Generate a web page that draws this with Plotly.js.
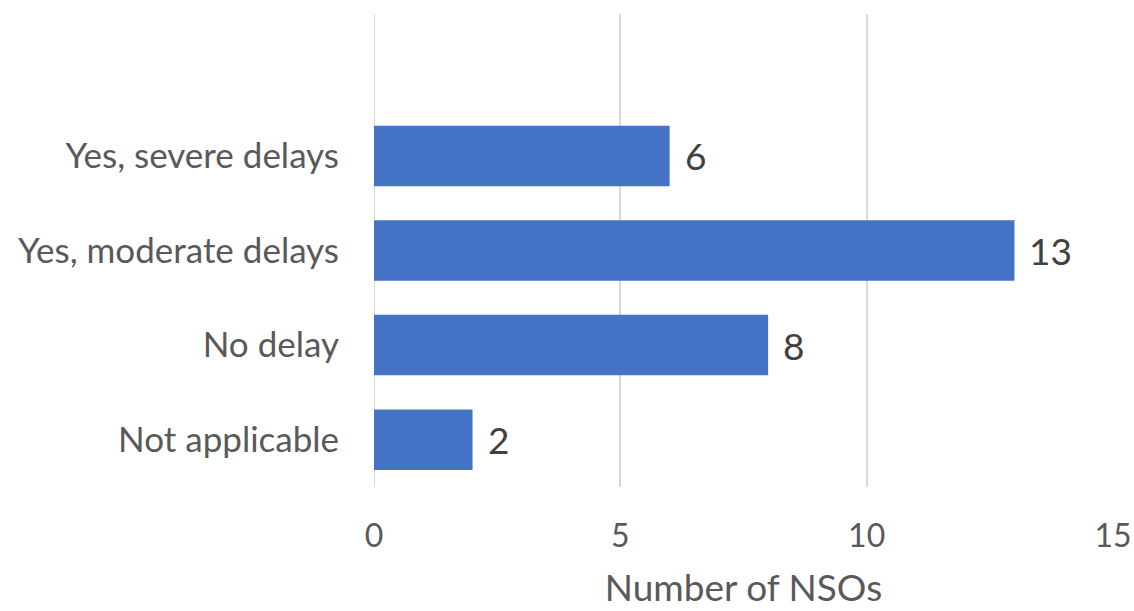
<!DOCTYPE html>
<html>
<head>
<meta charset="utf-8">
<script src="https://cdn.plot.ly/plotly-3.0.1.min.js"></script>
<style>html,body{margin:0;padding:0;background:#fff;}#chart{width:1134px;height:611px;}</style>
</head>
<body>
<div id="chart"></div>
<script>
const categories = ["Not applicable", "No delay", "Yes, moderate delays", "Yes, severe delays"];
const values = [2, 8, 13, 6];
const xTicks = [0, 5, 10, 15];
const xTitle = "Number of NSOs";

const FONT = "Lato, 'Open Sans', sans-serif";

const trace = {
  type: "bar",
  orientation: "h",
  y: categories,
  x: values,
  marker: {color: "#4472C4"},
  hoverinfo: "x+y"
};

const annotations = categories.map((c, i) => ({
  x: values[i], y: c, xref: "x", yref: "y",
  text: String(values[i]), showarrow: false,
  xanchor: "left", yanchor: "middle", xshift: 13,
  font: {family: FONT, size: 37, color: "#404040"}
}));

const layout = {
  width: 1134, height: 611,
  margin: {l: 374, r: 21, t: 14, b: 124},
  paper_bgcolor: "#fff", plot_bgcolor: "#fff",
  bargap: 0.36,
  showlegend: false,
  xaxis: {
    range: [0, 15], tickvals: xTicks, ticktext: xTicks.map(String),
    showgrid: true, gridcolor: "#d9d9d9", gridwidth: 2,
    zeroline: false, showline: false, ticks: "",
    ticklabelstandoff: 27,
    tickfont: {family: FONT, size: 32, color: "#595959"},
    title: {text: xTitle, font: {family: FONT, size: 37, color: "#595959"}, standoff: 22}
  },
  yaxis: {
    type: "category", categoryorder: "array", categoryarray: categories,
    range: [-0.5, 4.5],
    showgrid: false, zeroline: false, showline: false, ticks: "",
    ticklabelstandoff: 34,
    tickfont: {family: FONT, size: 35, color: "#595959"}
  },
  annotations: annotations,
  shapes: [{type: "line", xref: "x", yref: "paper", x0: 0, x1: 0, y0: 0, y1: 1,
            line: {color: "#d9d9d9", width: 2}, layer: "below"}]
};

Plotly.newPlot("chart", [trace], layout, {displayModeBar: false, staticPlot: true});
</script>
</body>
</html>
